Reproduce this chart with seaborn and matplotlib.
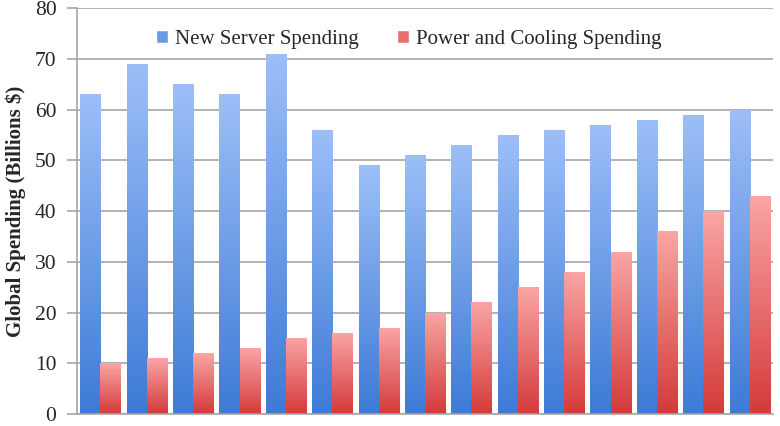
import numpy as np
import pandas as pd
import matplotlib
matplotlib.use("Agg")
import matplotlib.pyplot as plt
import seaborn as sns
from matplotlib.colors import LinearSegmentedColormap
from matplotlib.patches import Patch

# data (15 periods, no x labels shown)
periods = [str(i) for i in range(1, 16)]
server = [63, 69, 65, 63, 71, 56, 49, 51, 53, 55, 56, 57, 58, 59, 60]
power = [10, 11, 12, 13, 15, 16, 17, 20, 22, 25, 28, 32, 36, 40, 43]
series = ["New Server Spending", "Power and Cooling Spending"]

df = pd.DataFrame({
    "period": periods * 2,
    "value": server + power,
    "series": [series[0]] * len(periods) + [series[1]] * len(periods),
})

# gradient ends (bottom -> top)
blue_cm = LinearSegmentedColormap.from_list("b", ["#3d7bd6", "#9dbff8"])
red_cm = LinearSegmentedColormap.from_list("r", ["#d43a3a", "#faa5a5"])

sns.set_style("white")
plt.rcParams["font.family"] = ["Liberation Serif", "DejaVu Serif"]

fig = plt.figure(figsize=(7.8, 4.26), dpi=100)
ax = fig.add_axes([0.099, 0.028, 0.892, 0.953])

sns.barplot(data=df, x="period", y="value", hue="series", ax=ax,
            palette=["#6a9ae6", "#e87070"], width=0.87, gap=0,
            legend=False, saturation=1)

grad = np.linspace(0, 1, 256).reshape(-1, 1)
n = len(periods)
for i, p in enumerate(list(ax.patches)):
    cm = blue_cm if i < n else red_cm
    x0, w, h = p.get_x(), p.get_width(), p.get_height()
    im = ax.imshow(grad, cmap=cm, origin="lower", aspect="auto",
                   extent=[x0, x0 + w, 0, h], zorder=2)
    im.set_clip_path(p)
    p.set_facecolor("none")
    p.set_edgecolor("none")

ax.set_xlim(-0.5, n - 0.5)
ax.set_ylim(0, 80)
ax.set_yticks(range(0, 81, 10))
ax.yaxis.grid(True, color="#a6a6a6", linewidth=1.2, zorder=0)
ax.set_axisbelow(True)
ax.set_xticks([])
ax.set_xticks(np.arange(-0.5, n, 1.0), minor=True)
ax.tick_params(axis="x", which="minor", length=6, color="#a6a6a6", width=1.2)
ax.tick_params(axis="y", length=7, color="#a6a6a6", width=1.2, labelsize=15.5, pad=8)
ax.tick_params(axis="y", which="major", left=True)
ax.set_xlabel("")
ax.set_ylabel("Global Spending (Billions $)", fontsize=15, fontweight="bold")
ax.yaxis.set_label_coords(-0.074, 0.5)

for s in ["top", "right"]:
    ax.spines[s].set_visible(False)
for s in ["left", "bottom"]:
    ax.spines[s].set_color("#a6a6a6")
    ax.spines[s].set_linewidth(1.2)

handles = [Patch(facecolor="#6a9ae6"), Patch(facecolor="#e87070")]
ax.legend(handles, series, loc="upper center", bbox_to_anchor=(0.476, 0.993),
          ncol=2, frameon=False, fontsize=15, handlelength=0.6, handleheight=0.6,
          handletextpad=0.3, columnspacing=1.85)

fig.savefig("out.png", dpi=100)
